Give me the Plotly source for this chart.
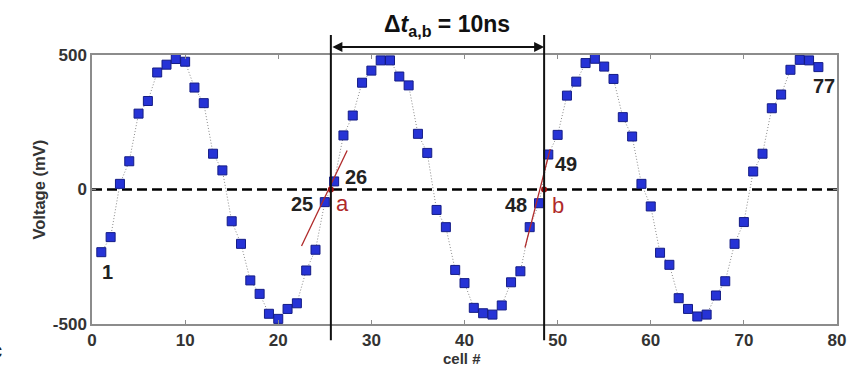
import plotly.graph_objects as go

# ---- data ----
cells = list(range(1, 79))
voltage_mV = [
    -233, -177, 21, 105, 282, 329, 435, 464, 485, 475,
    379, 321, 133, 71, -118, -202, -338, -388, -462, -481,
    -444, -423, -301, -224, -47, 30, 201, 275, 397, 442,
    480, 480, 420, 387, 207, 136, -76, -140, -299, -348,
    -440, -460, -465, -431, -345, -304, -140, -51, 130, 203,
    349, 401, 470, 486, 457, 411, 269, 197, 21, -63,
    -235, -280, -404, -444, -472, -465, -394, -341, -202, -121,
    67, 133, 302, 353, 445, 482, 480, 455,
]
crossing_x = [25.65, 48.55]          # a, b zero crossings
crossing_y = [0, 0]
tangent_a_x = [22.5, 27.4]
tangent_a_y = [-210, 145]
tangent_b_x = [46.5, 49.2]
tangent_b_y = [-215, 150]
x_ticks = [0, 10, 20, 30, 40, 50, 60, 70, 80]
y_ticks = [-500, 0, 500]

FONT = "Liberation Sans, Arial, sans-serif"
RED = "#b02a2a"

fig = go.Figure()

# dotted connecting line + square markers
fig.add_trace(go.Scatter(
    x=cells, y=voltage_mV, mode="lines+markers",
    line=dict(color="#8a8a8a", width=1, dash="1px,2px"),
    marker=dict(symbol="square", size=9, color="#2633d6",
                line=dict(color="#141c86", width=1)),
    showlegend=False, hoverinfo="skip"))

# tangents
for tx, ty in [(tangent_a_x, tangent_a_y), (tangent_b_x, tangent_b_y)]:
    fig.add_trace(go.Scatter(x=tx, y=ty, mode="lines",
                             line=dict(color=RED, width=1.3),
                             showlegend=False, hoverinfo="skip"))

# crossing dots
fig.add_trace(go.Scatter(x=crossing_x, y=crossing_y, mode="markers",
                         marker=dict(size=6, color="#9a1010"),
                         showlegend=False, hoverinfo="skip"))

# zero dashed line
fig.add_shape(type="line", xref="paper", yref="y", x0=0, x1=1, y0=0, y1=0,
              line=dict(color="black", width=2.5, dash="10px,5px"), layer="below")

# vertical lines at crossings
for cx in crossing_x:
    fig.add_shape(type="line", xref="x", yref="paper", x0=cx, x1=cx,
                  y0=-0.06, y1=1.074, line=dict(color="#111", width=2))

# double arrow (paper y so it is drawn above the plot area)
ARROW_Y = (324 - 47) / 269
fig.add_annotation(x=crossing_x[1], y=ARROW_Y, ax=crossing_x[0], ay=0,
                   xref="x", yref="paper", axref="x", ayref="pixel",
                   text="", showarrow=True, arrowhead=2, arrowside="end+start",
                   startarrowhead=2, arrowsize=1, startarrowsize=1,
                   arrowwidth=2, arrowcolor="#111")

# title text
fig.add_annotation(x=(447 - 92) / 745, y=(324 - 26) / 269, xref="paper", yref="paper",
                   xanchor="center", yanchor="middle", showarrow=False,
                   text="<b>Δ<i>t</i><sub>a,b</sub> = 10ns</b>",
                   font=dict(family=FONT, size=23, color="#111"))

labels = [("1", 1.7, -307), ("25", 22.5, -53), ("26", 28.4, 46),
          ("48", 45.5, -59), ("49", 50.9, 95), ("77", 78.6, 383)]
for t, lx, ly in labels:
    fig.add_annotation(x=lx, y=ly, xref="x", yref="y", text=f"<b>{t}</b>",
                       showarrow=False, font=dict(family=FONT, size=20, color="#222"))
for t, lx, ly in [("a", 26.9, -53), ("b", 50.0, -59)]:
    fig.add_annotation(x=lx, y=ly, xref="x", yref="y", text=t,
                       showarrow=False, font=dict(family=FONT, size=22, color=RED))

# axis titles
fig.add_annotation(x=(38 - 92) / 745, y=0.5, xref="paper", yref="paper",
                   xanchor="center", yanchor="middle",
                   text="<b>Voltage (mV)</b>",
                   textangle=-90, showarrow=False,
                   font=dict(family=FONT, size=16.5, color="#333"))
fig.add_annotation(x=(462 - 92) / 745, y=(324 - 358) / 269, xref="paper", yref="paper",
                   xanchor="center", yanchor="middle",
                   text="<b>cell #</b>",
                   showarrow=False, font=dict(family=FONT, size=15, color="#333"))
# clipped panel letter at the left edge
fig.add_annotation(x=(4 - 92) / 745, y=(324 - 350) / 269, xref="paper", yref="paper",
                   text="<b>c</b>", xanchor="right", yanchor="middle", showarrow=False,
                   font=dict(family=FONT, size=22, color="#222"))

axis_common = dict(showgrid=False, zeroline=False, showline=True, linecolor="#8c8c8c",
                   linewidth=1.5, mirror="ticks", ticks="inside", ticklen=4,
                   tickcolor="#8c8c8c", tickwidth=1)
fig.update_xaxes(range=[0, 80], tickvals=x_ticks,
                 ticktext=[f"<b>{v}</b>" for v in x_ticks],
                 tickfont=dict(family=FONT, size=17, color="#333"), **axis_common)
fig.update_yaxes(range=[-500, 500], tickvals=y_ticks,
                 ticktext=[f"<b>{v}</b>" for v in y_ticks],
                 tickfont=dict(family=FONT, size=17, color="#333"), **axis_common)

fig.update_layout(width=859, height=368, margin=dict(l=92, r=22, t=55, b=44),
                  plot_bgcolor="white", paper_bgcolor="white", showlegend=False)

fig.write_html("out.html")
